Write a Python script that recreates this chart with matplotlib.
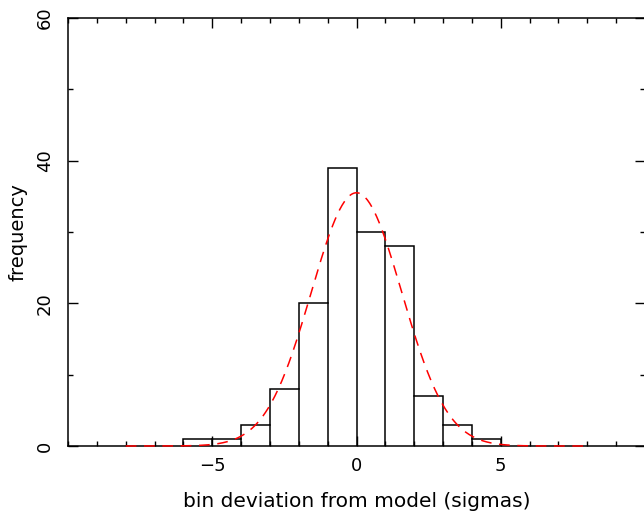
import numpy as np
import matplotlib.pyplot as plt
from matplotlib.ticker import MultipleLocator, FixedLocator

# histogram of bin deviations (bins one sigma wide)
bin_edges = [-6, -5, -4, -3, -2, -1, 0, 1, 2, 3, 4, 5]
counts = [1, 1, 3, 8, 20, 39, 30, 28, 7, 3, 1]
x_labels = [-5, 0, 5]

# gaussian model
g_peak = 35.5
g_mean = 0.0
g_sigma = 1.57
g_range = (-8, 8)

plt.rcParams['font.family'] = ['DejaVu Sans']
fig = plt.figure(figsize=(6.44, 5.15), dpi=100)
ax = fig.add_axes([68/644, 69/515, 577/644, 428/515])

ax.stairs(counts, bin_edges, color='black', linewidth=1.1)
# vertical lines between bars
for i in range(1, len(counts)):
    ax.plot([bin_edges[i]] * 2, [0, min(counts[i-1], counts[i])],
            color='black', linewidth=1.1)

gx = np.linspace(g_range[0], g_range[1], 400)
gy = g_peak * np.exp(-0.5 * ((gx - g_mean) / g_sigma) ** 2)
ax.plot(gx, gy, color='red', linestyle=(0, (7, 5)), linewidth=1.1,
        zorder=3, clip_on=False)

ax.set_xlim(-10, 10)
ax.set_ylim(0, 60)
ax.xaxis.set_major_locator(FixedLocator(x_labels))
ax.xaxis.set_minor_locator(MultipleLocator(1))
ax.yaxis.set_major_locator(MultipleLocator(20))
ax.yaxis.set_minor_locator(MultipleLocator(10))
ax.tick_params(which='both', direction='in', top=True, right=True,
               width=1.0, labelsize=13)
ax.tick_params(which='major', length=7)
ax.tick_params(which='minor', length=3.6)
ax.tick_params(axis='x', pad=8)
ax.tick_params(axis='y', pad=10)
for lab in ax.get_yticklabels():
    lab.set_rotation(90)
    lab.set_va('center')
for s in ax.spines.values():
    s.set_linewidth(1.1)

ax.set_xlabel('bin deviation from model (sigmas)', fontsize=14.5, labelpad=12)
ax.set_ylabel('frequency', fontsize=14, labelpad=6)

fig.savefig('out.png', dpi=100)
